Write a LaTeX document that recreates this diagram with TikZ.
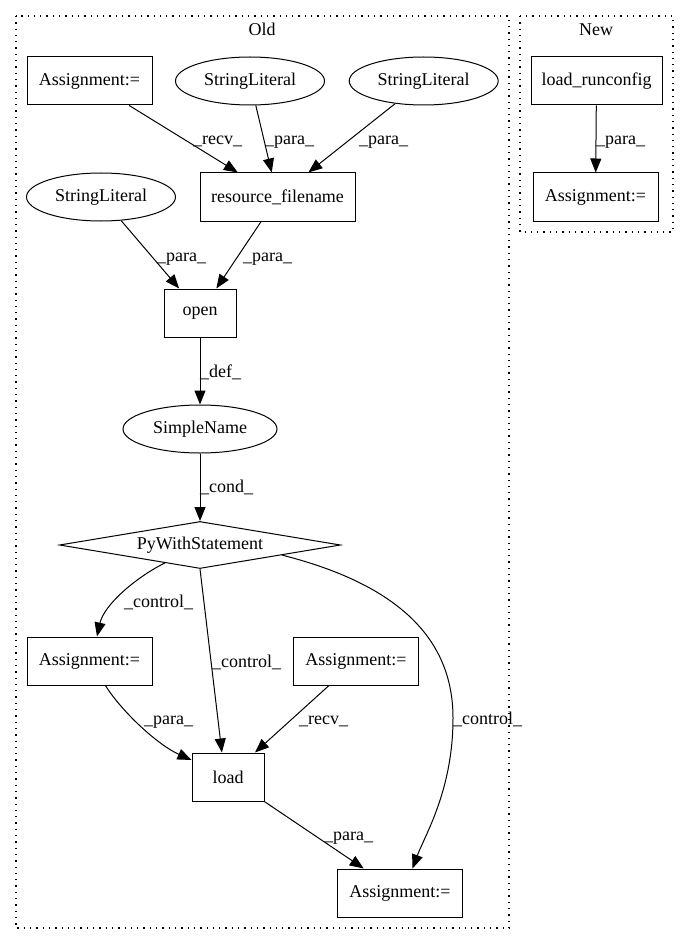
\documentclass[tikz,border=0pt]{standalone}
\usepackage{fontspec}
\setmainfont{Liberation Serif}
\usetikzlibrary{shapes.geometric,arrows.meta}
\begin{document}
\begin{tikzpicture}[x=1pt,y=-1pt,
  every node/.style={font=\fontsize{18pt}{20pt}\selectfont},
  box/.style={draw,line width=1pt,rectangle,inner sep=0pt,minimum width=125pt,minimum height=48pt},
  ell/.style={draw,line width=1pt,ellipse,inner sep=0pt,minimum width=149pt,minimum height=48pt},
  arr/.style={line width=1pt,-{Triangle[length=14pt,width=11pt]}},
  lbl/.style={anchor=base west,inner sep=0pt},
  clus/.style={line width=1.2pt,dash pattern=on 1.3pt off 5pt}]
\useasboundingbox (0,0) rectangle (688,944);
% clusters
\draw[clus] (16,16) rectangle (509,928);
\draw[clus] (520,16) rectangle (673,232);
\node[anchor=base,inner sep=0pt] (told) at (262,36) {Old};
\node[anchor=base,inner sep=0pt] (tnew) at (596,36) {New};
% nodes
\node[box] (a1) at (89.5,81) {Assignment:=};
\node[ell] (sl1) at (250,81) {StringLiteral};
\node[ell] (sl2) at (423.7,81) {StringLiteral};
\node[box,minimum width=155pt] (rf) at (277.5,197) {resource\_filename};
\node[ell] (sl3) at (101,197) {StringLiteral};
\node[box,minimum width=72pt] (open) at (200,313) {open};
\node[ell,minimum width=154pt] (sn) at (200,429) {SimpleName};
\node[draw,line width=1pt,diamond,shape aspect=6,inner sep=0pt,minimum width=281pt,minimum height=47pt] (pws) at (200,545) {PyWithStatement};
\node[box] (a2) at (89.5,661) {Assignment:=};
\node[box] (a3) at (356,661) {Assignment:=};
\node[box,minimum width=72pt] (load) at (228,777) {load};
\node[box] (a4) at (400,893) {Assignment:=};
\node[box,minimum width=131pt] (lr) at (596.5,81) {load\_runconfig};
\node[box] (a5) at (595.5,197) {Assignment:=};
% edges
\draw[arr] (a1) -- (rf);
\draw[arr] (sl1) -- (rf);
\draw[arr] (sl2) -- (rf);
\draw[arr] (sl3) -- (open);
\draw[arr] (rf) -- (open);
\draw[arr] (open) -- (sn);
\draw[arr] (sn) -- (pws);
\draw[arr] (pws.207) .. controls (135,578) and (104,605) .. (a2.73);
\draw[arr] (pws.south) -- (load.104);
\draw[arr] (pws.353) .. controls (400,585) and (453,640) .. (453,718) .. controls (453,790) and (425,835) .. (a4.63);
\draw[arr] (a2.-57) .. controls (122,712) and (158,745) .. (load.155);
\draw[arr] (a3) -- (load);
\draw[arr] (load) -- (a4);
\draw[arr] (lr) -- (a5);
% labels
\node[lbl] (l1) at (193,145) {\_recv\_};
\node[lbl] (l2) at (265,145) {\_para\_};
\node[lbl] (l3) at (359,145) {\_para\_};
\node[lbl] (l4) at (157,261) {\_para\_};
\node[lbl] (l5) at (243,261) {\_para\_};
\node[lbl] (l6) at (200,377) {\_def\_};
\node[lbl] (l7) at (200,492) {\_cond\_};
\node[lbl] (l8) at (124,607) {\_control\_};
\node[lbl] (l9) at (212,667) {\_control\_};
\node[lbl] (l10) at (453,724) {\_control\_};
\node[lbl] (l11) at (144,724) {\_para\_};
\node[lbl] (l12) at (299,724) {\_recv\_};
\node[lbl] (l13) at (324,840) {\_para\_};
\node[lbl] (l14) at (596,145) {\_para\_};
\end{tikzpicture}
\end{document}
